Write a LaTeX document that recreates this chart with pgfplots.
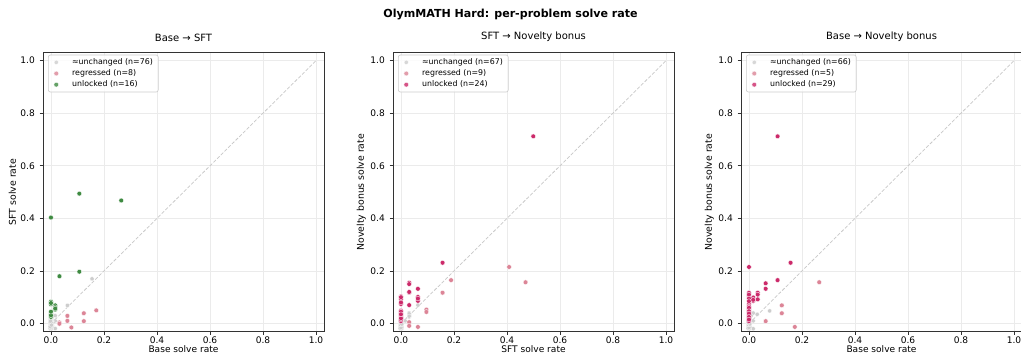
\documentclass[border=0pt]{standalone}
\usepackage{fontspec}
\setmainfont{DejaVu Sans}
\usepackage{pgfplots}
\pgfplotsset{compat=1.18}
\definecolor{cgray}{HTML}{CDCDCD}
\definecolor{cpink}{HTML}{DC8597}
\definecolor{cgreen}{HTML}{3E8A41}
\definecolor{ccrim}{HTML}{CC2A6A}
\definecolor{cgrid}{HTML}{EBEBEB}
\definecolor{caxis}{HTML}{333333}
\definecolor{cdiag}{HTML}{C8C8C8}
\pgfplotsset{
  panel/.style={
    scale only axis, width=210.75pt, height=209pt,
    xmin=-0.03, xmax=1.03, ymin=-0.03, ymax=1.03,
    xtick={0,0.2,0.4,0.6,0.8,1}, ytick={0,0.2,0.4,0.6,0.8,1},
    xticklabels={0.0,0.2,0.4,0.6,0.8,1.0},
    yticklabels={0.0,0.2,0.4,0.6,0.8,1.0},
    tick pos=left, tick align=outside, major tick length=2.6pt,
    tick style={caxis, line width=0.6pt},
    axis line style={caxis, line width=0.75pt},
    grid=major, major grid style={cgrid, line width=0.6pt},
    tick label style={font=\fontsize{6.8}{8}\selectfont, text=black},
    xticklabel style={inner ysep=1pt},
    label style={font=\fontsize{7}{8.5}\selectfont},
    xlabel style={inner ysep=0.5pt, font=\fontsize{6.8}{8}\selectfont},
    xlabel shift=0.3pt, ylabel shift=-3.5pt,
    title style={font=\fontsize{7.5}{9}\selectfont, yshift=-1.5pt},
    legend style={at={(0.018,0.993)}, anchor=north west,
      font=\fontsize{5.9}{7}\selectfont, draw=cgray, line width=0.5pt,
      rounded corners=1.5pt, fill=white, fill opacity=0.8, text opacity=1,
      row sep=1.4pt, inner xsep=2pt, inner ysep=2pt,
      nodes={inner ysep=0.5pt}},
    legend cell align=left,
    legend image code/.code={\path[draw=none,fill=none] (0pt,-2pt) rectangle (13.8pt,2pt); \draw[#1] plot coordinates {(3.9pt,0pt)};},
  },
  pts/.style={only marks, mark=*, mark size=1.8pt, mark options={draw=white, line width=0.25pt, fill=#1}},
  gpts/.style={only marks, mark=*, mark size=1.6pt, mark options={draw=white, line width=0.2pt, fill=cgray}},
  diag/.style={forget plot, cdiag, dash pattern=on 2.6pt off 1.3pt, line width=0.55pt},
}
\begin{document}
\begin{tikzpicture}
% Panel 1
\begin{axis}[panel, at={(32.25pt,19.2pt)}, anchor=south west,
  title={Base → SFT}, xlabel={Base solve rate}, ylabel={SFT solve rate}]
\addplot[diag] coordinates {(0,0)(1,1)};
\addplot[gpts] coordinates {
(0.155,0.170)(0.062,0.069)(0.016,-0.019)(0.016,0.010)(0.016,0.030)(0.008,0.004)(0.005,-0.010)
(0,-0.020)(0.002,-0.017)(-0.002,-0.014)(0,-0.011)(0.003,-0.008)(-0.003,-0.005)(0,-0.002)(0.002,0.001)(-0.002,0.004)(0,0.007)
(0.003,0.010)(-0.003,0.013)(0,0.016)(0.002,-0.019)(-0.002,-0.016)(0,-0.013)(0.003,-0.010)(-0.003,-0.007)(0,-0.004)(0.002,-0.001)
(-0.002,0.002)(0,0.005)(0.003,0.008)(-0.003,0.011)(0,0.014)(0.002,-0.018)(-0.002,-0.015)(0,-0.012)(0.003,-0.009)(-0.003,-0.006)
(0,-0.003)(0.002,0.000)(-0.002,0.003)(0,0.006)(0.003,0.009)(-0.003,0.012)(0,0.015)(0.002,-0.020)(-0.002,-0.012)(0,-0.008)
(0.003,-0.004)(-0.003,0.000)(0,0.004)(0.002,0.008)(-0.002,0.012)(0,0.018)(0.003,0.022)(-0.003,-0.018)(0,-0.006)(0.002,0.006)
(-0.002,-0.010)(0,0.002)(0.003,-0.014)(-0.003,0.008)(0,-0.016)(0.002,0.014)(-0.002,-0.004)(0,0.010)(0.003,-0.002)(-0.003,0.004)
(0,-0.009)(0.002,0.011)(-0.002,-0.008)(0,0.012)(0.003,0.002)(-0.003,-0.012)(0,0.020)(0.002,-0.006)(-0.002,0.009)};
\addlegendentry{≈unchanged (n=76)}
\addplot[pts=cpink] coordinates {
(0.062,0.029)(0.062,0.010)(0.032,0.004)(0.032,-0.001)(0.077,-0.015)(0.124,0.039)(0.124,0.009)(0.171,0.050)};
\addlegendentry{regressed (n=8)}
\addplot[pts=cgreen] coordinates {
(0.107,0.494)(0.265,0.468)(0,0.403)(0.032,0.180)(0.107,0.197)(0,0.083)(0,0.073)(0.016,0.069)
(0.016,0.053)(0,0.036)(0,0.025)(0,0.031)(0,0.078)(0.016,0.062)(0,0.045)(0.016,0.057)};
\addlegendentry{unlocked (n=16)}
\end{axis}
% Panel 2
\begin{axis}[panel, at={(294.75pt,19.2pt)}, anchor=south west,
  title={SFT → Novelty bonus}, xlabel={SFT solve rate}, ylabel={Novelty bonus solve rate}]
\addplot[diag] coordinates {(0,0)(1,1)};
\addplot[gpts] coordinates {
(0.064,0.070)(0.031,0.040)(0.031,0.035)(0.031,0.030)(0.031,0.025)(0.031,0.037)(0.031,0.028)(0.016,0.010)
(0,-0.020)(0.002,-0.017)(-0.002,-0.014)(0,-0.011)(0.003,-0.008)(-0.003,-0.005)(0,-0.002)(0.002,0.001)(-0.002,0.004)(0,0.007)
(0.003,0.010)(-0.003,0.013)(0,0.016)(0.002,-0.019)(-0.002,-0.016)(0,-0.013)(0.003,-0.010)(-0.003,-0.007)(0,-0.004)(0.002,-0.001)
(-0.002,0.002)(0,0.005)(0.003,0.008)(-0.003,0.011)(0,0.014)(0.002,-0.018)(-0.002,-0.015)(0,-0.012)(0.003,-0.009)(-0.003,-0.006)
(0,-0.003)(0.002,0.000)(-0.002,0.003)(0,0.006)(0.003,0.009)(-0.003,0.012)(0,0.015)(0.002,-0.020)(-0.002,-0.012)(0,-0.008)
(0.003,-0.004)(-0.003,0.000)(0,0.004)(0.002,0.008)(-0.002,0.012)(0,0.018)(0.003,0.022)(-0.003,-0.018)(0,-0.006)(0.002,0.006)
(-0.002,-0.010)(0,0.002)(0.003,-0.014)(-0.003,0.008)(0,-0.016)(0.002,0.014)(-0.002,-0.004)(0,0.010)(0.003,-0.002)};
\addlegendentry{≈unchanged (n=67)}
\addplot[pts=cpink] coordinates {
(0.408,0.215)(0.470,0.157)(0.189,0.165)(0.157,0.117)(0.096,0.053)(0.096,0.044)(0.031,0.005)(0.031,-0.009)(0.064,-0.013)};
\addlegendentry{regressed (n=9)}
\addplot[pts=ccrim] coordinates {
(0.499,0.712)(0.157,0.231)(0.031,0.155)(0.031,0.118)(0.031,0.070)(0.064,0.132)(0.064,0.101)(0.064,0.086)
(0,0.103)(0,0.092)(0,0.074)(0,0.049)(0,0.038)(0,0.029)(0,0.009)(0,0.015)
(0,0.100)(0,0.045)(0,0.020)(0.031,0.150)(0.064,0.095)(0,0.080)(0,0.035)(0.031,0.120)};
\addlegendentry{unlocked (n=24)}
\end{axis}
% Panel 3
\begin{axis}[panel, at={(555.75pt,19.2pt)}, anchor=south west,
  title={Base → Novelty bonus}, xlabel={Base solve rate}, ylabel={Novelty bonus solve rate}]
\addplot[diag] coordinates {(0,0)(1,1)};
\addplot[gpts] coordinates {
(0.078,0.048)(0.031,0.035)(0.016,0.040)(0.016,0.010)(0.016,-0.020)(0.008,0.030)
(0,-0.020)(0.002,-0.017)(-0.002,-0.014)(0,-0.011)(0.003,-0.008)(-0.003,-0.005)(0,-0.002)(0.002,0.001)(-0.002,0.004)(0,0.007)
(0.003,0.010)(-0.003,0.013)(0,0.016)(0.002,-0.019)(-0.002,-0.016)(0,-0.013)(0.003,-0.010)(-0.003,-0.007)(0,-0.004)(0.002,-0.001)
(-0.002,0.002)(0,0.005)(0.003,0.008)(-0.003,0.011)(0,0.014)(0.002,-0.018)(-0.002,-0.015)(0,-0.012)(0.003,-0.009)(-0.003,-0.006)
(0,-0.003)(0.002,0.000)(-0.002,0.003)(0,0.006)(0.003,0.009)(-0.003,0.012)(0,0.015)(0.002,-0.020)(-0.002,-0.012)(0,-0.008)
(0.003,-0.004)(-0.003,0.000)(0,0.004)(0.002,0.008)(-0.002,0.012)(0,0.018)(0.003,0.022)(-0.003,-0.018)(0,-0.006)(0.002,0.006)
(-0.002,-0.010)(0,0.002)(0.003,-0.014)(-0.003,0.008)(0,-0.016)(0.002,0.014)(-0.002,-0.004)(0,0.010)(0.003,-0.002)(-0.003,0.004)};
\addlegendentry{≈unchanged (n=66)}
\addplot[pts=cpink] coordinates {
(0.265,0.157)(0.124,0.069)(0.124,0.039)(0.063,0.009)(0.173,-0.013)};
\addlegendentry{regressed (n=5)}
\addplot[pts=ccrim] coordinates {
(0.108,0.712)(0,0.215)(0.157,0.231)(0.108,0.165)(0.063,0.153)(0.063,0.132)(0.033,0.117)(0.016,0.099)
(0.033,0.092)(0.016,0.086)(0,0.117)(0,0.103)(0,0.074)(0,0.054)(0,0.044)(0,0.031)(0,0.021)(0,0.009)
(0,0.110)(0,0.095)(0,0.085)(0,0.065)(0,0.060)(0,0.047)(0,0.038)(0,0.025)(0,0.015)(0.016,0.090)(0.033,0.110)};
\addlegendentry{unlocked (n=29)}
\end{axis}
\node[font=\bfseries\fontsize{8.3}{10}\selectfont] at (382.9pt,257.25pt) {OlymMATH Hard: per-problem solve rate};
\pgfresetboundingbox
\path[use as bounding box] (0,0) rectangle (765.75pt,267.75pt);
\end{tikzpicture}
\end{document}
